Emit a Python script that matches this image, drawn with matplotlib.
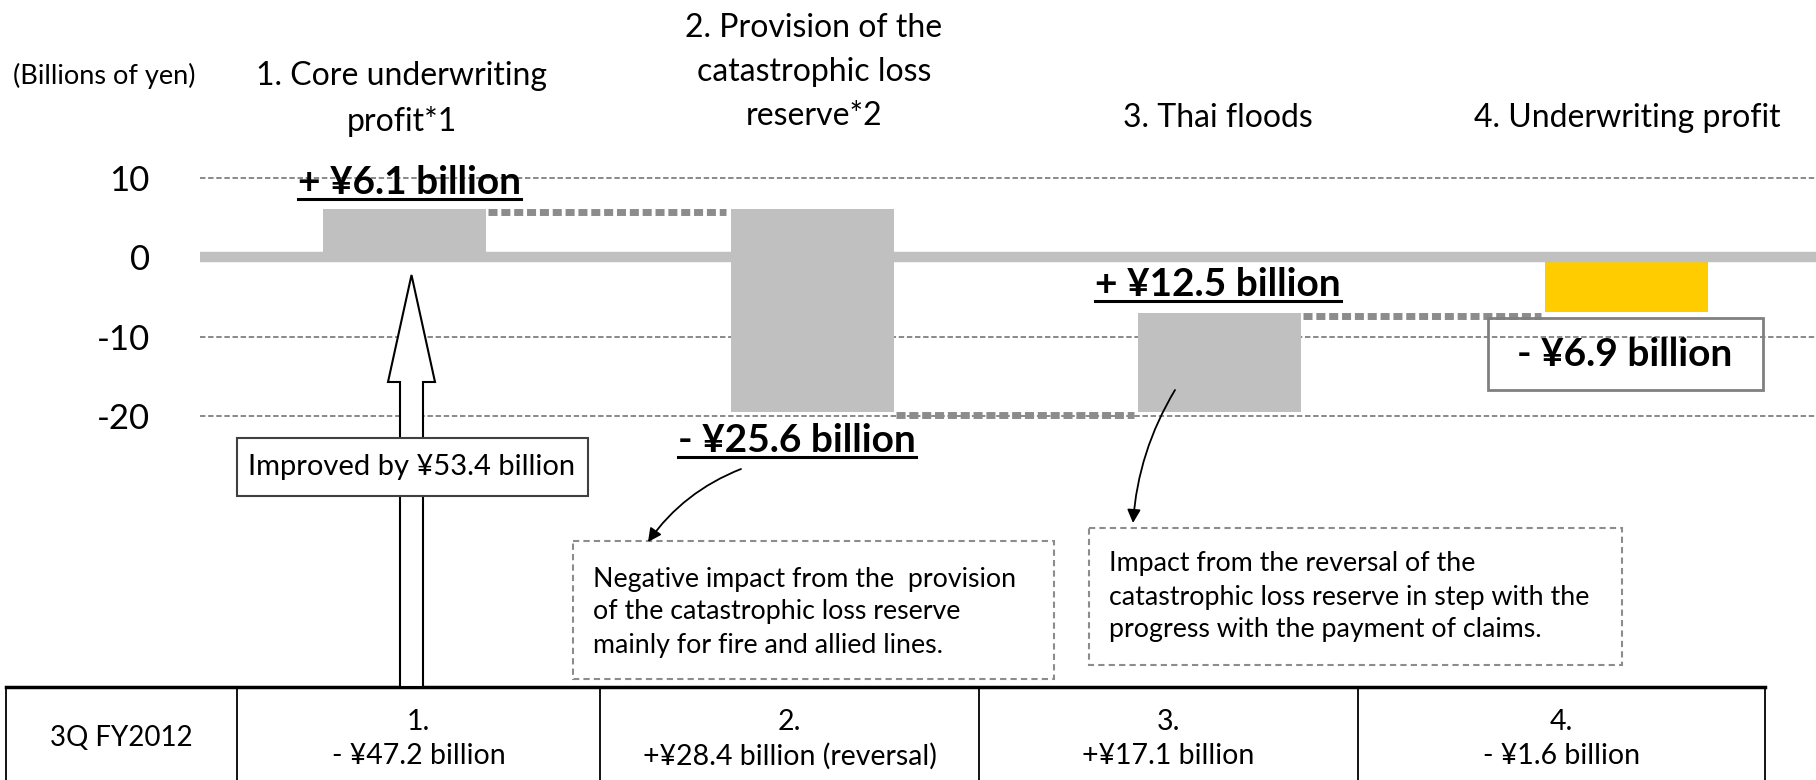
import matplotlib
matplotlib.use("Agg")
import matplotlib.pyplot as plt
from matplotlib.patches import Rectangle, FancyArrow

plt.rcParams['font.family'] = ['Lato', 'DejaVu Sans']

# data (billions of yen)
steps = ["1. Core underwriting\nprofit*1", "2. Provision of the\ncatastrophic loss\nreserve*2",
         "3. Thai floods", "4. Underwriting profit"]
changes = [6.1, -25.6, 12.5]
total = -6.9
step_labels = ["+ ¥6.1 billion", "- ¥25.6 billion", "+ ¥12.5 billion", "- ¥6.9 billion"]
yticks = [10, 0, -10, -20]
table_head = "3Q FY2012"
table_cells = ["1.\n- ¥47.2 billion", "2.\n+¥28.4 billion (reversal)",
               "3.\n+¥17.1 billion", "4.\n- ¥1.6 billion"]
note1 = "Negative impact from the  provision\nof the catastrophic loss reserve\nmainly for fire and allied lines."
note2 = "Impact from the reversal of the\ncatastrophic loss reserve in step with the\nprogress with the payment of claims."
improved = "Improved by ¥53.4 billion"

W, H = 1816, 780
fig = plt.figure(figsize=(W / 100, H / 100), dpi=100)

# main axes: y in billions, 7.933 px per unit
ppu = 238 / 30
ax = fig.add_axes([200 / W, 93 / H, 1616 / W, 687 / H])
ax.set_ylim(-20 - (687 - 416) / ppu, 10 + 178 / ppu)
ax.set_xlim(-0.502, 3.464)
for s in ax.spines.values():
    s.set_visible(False)
ax.set_xticks([])
ax.set_yticks(yticks)
ax.set_yticklabels([str(v) for v in yticks], fontsize=25)
ax.tick_params(axis='y', length=0, pad=36)

for g in [10, -10, -20]:
    ax.axhline(g, color='#808080', lw=1.3, dashes=(3, 1.5), zorder=0)

w = 0.4
level = 0
tops = []
for i, c in enumerate(changes):
    ax.bar(i, c, bottom=level, width=w, color='#c0c0c0', zorder=2)
    level += c
    tops.append(level)
ax.bar(3, total, bottom=0, width=w, color='#ffcc00', zorder=2)
ax.axhline(0, color='#c0c0c0', lw=7.5, zorder=3)

# connectors
for i, lv in enumerate(tops):
    ax.plot([i + w / 2 + 0.005, i + 1 - w / 2 - 0.01], [lv - 0.35, lv - 0.35],
            color='#8c8c8c', lw=5, linestyle=(0, (1.3, 0.55)), zorder=1, solid_capstyle='butt')

# overlay axes in pixel units for annotations
pax = fig.add_axes([0, 0, 1, 1])
pax.set_xlim(0, W)
pax.set_ylim(H, 0)
pax.axis('off')

pax.text(104, 76, "(Billions of yen)", fontsize=19.5, ha='center', va='center')
title_pos = [(402, 99), (814, 72), (1218, 118), (1627, 118)]
for t, (x, y) in zip(steps, title_pos):
    pax.text(x, y, t, fontsize=23, ha='center', va='center', linespacing=1.6)

label_pos = [(409, 182), (797, 440), (1218, 284)]
texts = []
for t, (x, y) in zip(step_labels[:3], label_pos):
    texts.append((pax.text(x, y, t, fontsize=28, fontweight='bold', ha='center', va='center', zorder=5), y))
pax.text(1625, 355, step_labels[3], fontsize=28, fontweight='bold', ha='center', va='center')
pax.add_patch(Rectangle((1488, 318), 275, 72, fill=False, ec='#808080', lw=2))

# hollow arrow and box
pax.add_patch(FancyArrow(411.5, 687, 0, -412, width=23, head_width=47, head_length=107,
                         length_includes_head=True, fc='white', ec='black', lw=1.5, zorder=3))
pax.add_patch(Rectangle((237, 438), 351, 58, fc='white', ec='#404040', lw=1.5, zorder=4))
pax.text(412, 467, improved, fontsize=21, ha='center', va='center', zorder=5)

# notes
pax.add_patch(Rectangle((573, 541), 481, 138, fill=False, ec='#8c8c8c', lw=1.5, linestyle=(0, (3, 2))))
pax.add_patch(Rectangle((1089, 528), 533, 137, fill=False, ec='#8c8c8c', lw=1.5, linestyle=(0, (3, 2))))
pax.text(593, 612, note1, fontsize=19.3, ha='left', va='center', linespacing=1.4)
pax.text(1109, 597, note2, fontsize=19.3, ha='left', va='center', linespacing=1.4)

pax.annotate('', xy=(648, 542), xytext=(741, 469),
             arrowprops=dict(arrowstyle='-|>', color='black', lw=1.3, mutation_scale=20,
                             connectionstyle='arc3,rad=0.15', shrinkA=0, shrinkB=0))
pax.annotate('', xy=(1133, 523), xytext=(1175, 390),
             arrowprops=dict(arrowstyle='-|>', color='black', lw=1.3, mutation_scale=20,
                             connectionstyle='arc3,rad=0.12', shrinkA=0, shrinkB=0))

# table
cols = [6, 237, 600, 979, 1358, 1765]
pax.plot([cols[0], cols[-1]], [687, 687], color='black', lw=2.5)
for cx in cols:
    pax.plot([cx, cx], [687, 780], color='black', lw=1.3)
pax.text((cols[0] + cols[1]) / 2, 738, table_head, fontsize=20, ha='center', va='center')
for i, t in enumerate(table_cells):
    pax.text((cols[i + 1] + cols[i + 2]) / 2, 739, t, fontsize=20.5, ha='center', va='center',
             linespacing=1.37)

# underlines
fig.canvas.draw()
r = fig.canvas.get_renderer()
for t, y in texts:
    bb = t.get_window_extent(r)
    pax.plot([bb.x0, bb.x1], [y + 17, y + 17], color='black', lw=2.2)

fig.savefig("out.png", dpi=100)
